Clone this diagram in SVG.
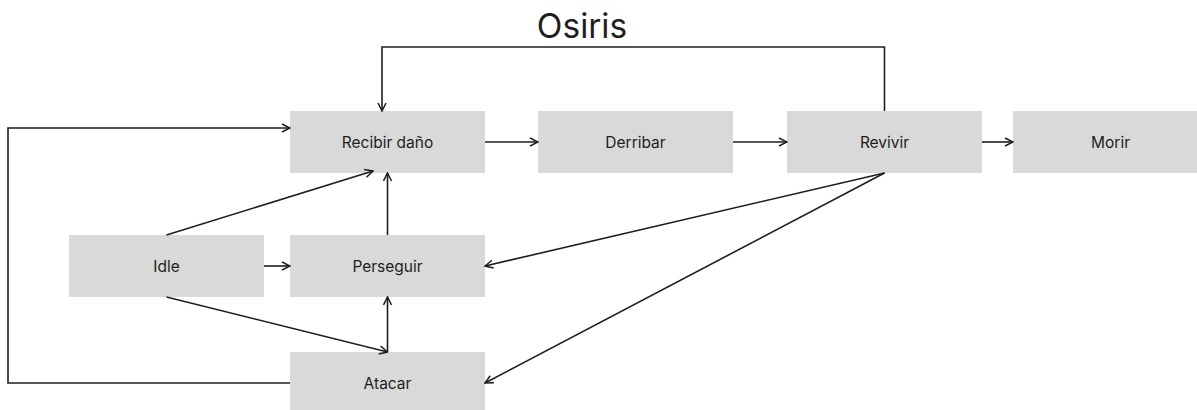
<svg xmlns="http://www.w3.org/2000/svg" width="1197" height="410" viewBox="0 0 1197 410">
<style>
.n{fill:#d9d9d9}
.t{font-family:Inter,"Liberation Sans",sans-serif;font-size:15.5px;fill:#1e1e1e;text-anchor:middle;dominant-baseline:central}
.c{fill:none;stroke:#1e1e1e;stroke-width:1.6}
</style>
<defs>
<marker id="a" viewBox="0 0 10 10" refX="9" refY="5" markerWidth="10" markerHeight="10" markerUnits="userSpaceOnUse" orient="auto">
<path d="M1,1 L9,5 L1,9" fill="none" stroke="#1e1e1e" stroke-width="1.5"/>
</marker>
</defs>
<rect width="1197" height="410" fill="#fff"/>
<text x="582" y="26" font-family="Inter,'Liberation Sans',sans-serif" font-size="33.5" fill="#1e1e1e" text-anchor="middle" dominant-baseline="central">Osiris</text>
<g id="recibir"><rect class="n" x="290" y="111" width="195" height="62"/><text class="t" x="387.5" y="142">Recibir daño</text></g>
<g id="derribar"><rect class="n" x="538" y="111" width="195" height="62"/><text class="t" x="635.5" y="142">Derribar</text></g>
<g id="revivir"><rect class="n" x="787" y="111" width="195" height="62"/><text class="t" x="884.5" y="142">Revivir</text></g>
<g id="morir"><rect class="n" x="1013" y="111" width="195" height="62"/><text class="t" x="1110.5" y="142">Morir</text></g>
<g id="idle"><rect class="n" x="69" y="235" width="195" height="62"/><text class="t" x="166.5" y="266">Idle</text></g>
<g id="perseguir"><rect class="n" x="290" y="235" width="195" height="62"/><text class="t" x="387.5" y="266">Perseguir</text></g>
<g id="atacar"><rect class="n" x="290" y="352" width="195" height="62"/><text class="t" x="387.5" y="383">Atacar</text></g>
<g id="connectors" class="c" marker-end="url(#a)">
<path class="c" d="M485,142 H538" marker-end="url(#a)"/>
<path class="c" d="M733,142 H787" marker-end="url(#a)"/>
<path class="c" d="M982,142 H1013" marker-end="url(#a)"/>
<path class="c" d="M884.5,111 V47 H382 V111" marker-end="url(#a)"/>
<path class="c" d="M290,383 H8 V128 H290" marker-end="url(#a)"/>
<path class="c" d="M166.5,235 L373,171" marker-end="url(#a)"/>
<path class="c" d="M387.5,235 V173" marker-end="url(#a)"/>
<path class="c" d="M264,266 H290" marker-end="url(#a)"/>
<path class="c" d="M166.5,297 L387.5,352" marker-end="url(#a)"/>
<path class="c" d="M387.5,352 V297" marker-end="url(#a)"/>
<path class="c" d="M884.5,173 L485,266" marker-end="url(#a)"/>
<path class="c" d="M884.5,173 L485,383" marker-end="url(#a)"/>
</g>
</svg>
